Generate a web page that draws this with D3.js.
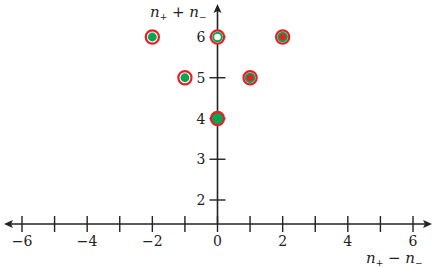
<!DOCTYPE html>
<html>
<head>
<meta charset="utf-8">
<script src="https://cdn.jsdelivr.net/npm/d3@7"></script>
<style>
  body { margin: 0; background: #fff; }
</style>
</head>
<body>
<div id="chart"></div>
<script>
// data
const xTicks = [-6, -5, -4, -3, -2, -1, 0, 1, 2, 3, 4, 5, 6];
const xLabels = [-6, -4, -2, 0, 2, 4, 6];
const yTicks = [2, 3, 4, 5, 6];
const pointX = [-2, 0, 2, -1, 1, 0];
const pointY = [6, 6, 6, 5, 5, 4];
const pointKind = ["greenDot", "hollow", "redDot", "greenDot", "redDot", "filled"];

const width = 436, height = 267;
const green = "#00a651", red = "#ed1c24", ink = "#222";
const serif = "'DejaVu Serif', serif";

const svg = d3.select("#chart").append("svg")
  .attr("width", width).attr("height", height)
  .attr("font-family", serif);

const x = d3.scaleLinear().domain([-6, 6]).range([22, 413]);
const y = d3.scaleLinear().domain([2, 6]).range([200, 37]);

const axisY = 224;     // pixel row of the horizontal axis
const axisX = x(0);

// horizontal axis
svg.append("line")
  .attr("x1", 9).attr("x2", 428)
  .attr("y1", axisY).attr("y2", axisY)
  .attr("stroke", ink).attr("stroke-width", 1.6);
svg.append("path")
  .attr("d", `M4,${axisY} L13,${axisY - 4} L11,${axisY} L13,${axisY + 4} Z`)
  .attr("fill", ink);
svg.append("path")
  .attr("d", `M432,${axisY} L423,${axisY - 4} L425,${axisY} L423,${axisY + 4} Z`)
  .attr("fill", ink);

svg.selectAll(".xtick").data(xTicks).join("line")
  .attr("class", "xtick")
  .attr("x1", d => x(d)).attr("x2", d => x(d))
  .attr("y1", axisY - 8).attr("y2", axisY + 8)
  .attr("stroke", ink).attr("stroke-width", 1.4);

svg.selectAll(".xlab").data(xLabels).join("text")
  .attr("class", "xlab")
  .attr("x", d => x(d)).attr("y", 246)
  .attr("text-anchor", "middle")
  .attr("font-size", 14)
  .attr("fill", ink)
  .text(d => d < 0 ? "\u2212" + Math.abs(d) : d);

// vertical axis
svg.append("line")
  .attr("x1", axisX).attr("x2", axisX)
  .attr("y1", axisY).attr("y2", 10)
  .attr("stroke", ink).attr("stroke-width", 1.6);
svg.append("path")
  .attr("d", `M${axisX},4 L${axisX - 4},13 L${axisX},11 L${axisX + 4},13 Z`)
  .attr("fill", ink);

svg.selectAll(".ytick").data(yTicks).join("line")
  .attr("class", "ytick")
  .attr("x1", axisX - 8).attr("x2", axisX + 8)
  .attr("y1", d => y(d)).attr("y2", d => y(d))
  .attr("stroke", ink).attr("stroke-width", 1.4);

svg.selectAll(".ylab").data(yTicks).join("text")
  .attr("class", "ylab")
  .attr("x", axisX - 12).attr("y", d => y(d) + 5)
  .attr("text-anchor", "end")
  .attr("font-size", 14)
  .attr("fill", ink)
  .text(d => d);

// axis titles
function title(tx, ty, op) {
  const t = svg.append("text").attr("x", tx).attr("y", ty)
    .attr("font-size", 15).attr("fill", ink);
  t.append("tspan").attr("font-style", "italic").text("n");
  t.append("tspan").attr("dy", 3).attr("font-size", 9).text("+");
  t.append("tspan").attr("dy", -3).text(" " + op + " ");
  t.append("tspan").attr("font-style", "italic").text("n");
  t.append("tspan").attr("dy", 3).attr("font-size", 9).text("\u2212");
}
title(150, 17, "+");
title(366, 263, "\u2212");

// points
const pts = pointX.map((d, i) => ({ x: pointX[i], y: pointY[i], kind: pointKind[i] }));
const g = svg.selectAll(".pt").data(pts).join("g")
  .attr("class", "pt")
  .attr("transform", d => `translate(${x(d.x)},${y(d.y)})`);

g.append("circle")
  .attr("r", 6.6)
  .attr("fill", d => d.kind === "filled" ? green : "#fff")
  .attr("stroke", red).attr("stroke-width", 2.2);

g.filter(d => d.kind === "greenDot").append("circle")
  .attr("r", 4.4).attr("fill", green);

g.filter(d => d.kind === "hollow").append("circle")
  .attr("r", 4.3).attr("fill", "#fff")
  .attr("stroke", green).attr("stroke-width", 2);

g.filter(d => d.kind === "redDot").append("circle")
  .attr("r", 4.3).attr("fill", red)
  .attr("stroke", green).attr("stroke-width", 2);
</script>
</body>
</html>
